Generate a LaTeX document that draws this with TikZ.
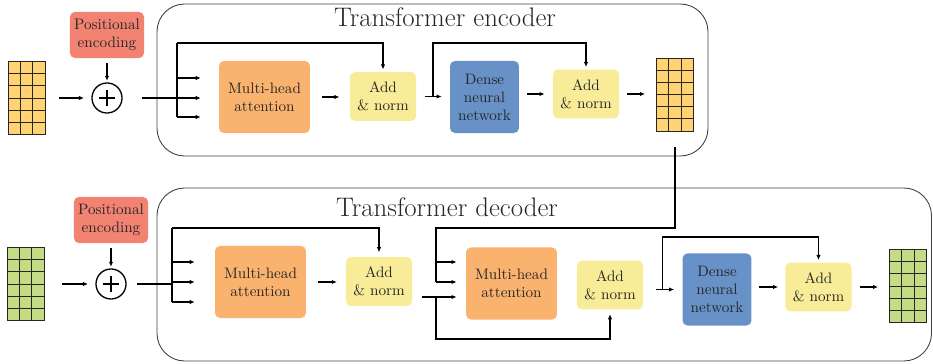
\documentclass[tikz,border=0pt]{standalone}
\usepackage[svgnames]{xcolor}
\usepackage{tikz}
\usetikzlibrary{arrows.meta,calc}

\definecolor{poscol}{HTML}{F28373}
\definecolor{attcol}{HTML}{F9B36F}
\definecolor{normcol}{HTML}{F9EC99}
\definecolor{densecol}{HTML}{6791C7}
\definecolor{enccol}{HTML}{FFD272}
\definecolor{deccol}{HTML}{C4DD84}

\begin{document}
\begin{tikzpicture}[x=0.686pt,y=-0.686pt,
    block/.style={rounded corners=3.4pt,align=center,inner sep=0pt,text=black!85,font=\fontsize{10.4}{12.4}\selectfont},
    attn/.style={block,fill=attcol,minimum width=62.4pt,minimum height=49.4pt},
    addnorm/.style={block,fill=normcol,minimum width=45.3pt,minimum height=33.6pt},
    dense/.style={block,fill=densecol,minimum width=47.3pt,minimum height=49.4pt},
    posenc/.style={block,fill=poscol,minimum width=50.8pt,minimum height=31.6pt},
    plus/.style={draw,circle,line width=0.9pt,minimum size=20.6pt,inner sep=0pt,
      path picture={
        \draw[line width=0.9pt] ([xshift=-5.5pt]path picture bounding box.center) -- ([xshift=5.5pt]path picture bounding box.center);
        \draw[line width=0.9pt] ([yshift=-5.5pt]path picture bounding box.center) -- ([yshift=5.5pt]path picture bounding box.center);
      }},
    tokens/.style={draw=black!85,fill=#1,line width=0.6pt,minimum width=25.4pt,minimum height=50.1pt,inner sep=0pt,
      path picture={
        \foreach \c in {1,2}
          \draw[line width=0.55pt] ($(path picture bounding box.north west)!\c/3!(path picture bounding box.north east)$) -- ($(path picture bounding box.south west)!\c/3!(path picture bounding box.south east)$);
        \foreach \r in {1,...,5}
          \draw[line width=0.55pt] ($(path picture bounding box.north west)!\r/6!(path picture bounding box.south west)$) -- ($(path picture bounding box.north east)!\r/6!(path picture bounding box.south east)$);
      }},
    layer/.style={draw=black!75,line width=0.6pt,rounded corners=19pt},
    heading/.style={text=black!85,font=\fontsize{18.4}{22}\selectfont},
    wire/.style={line width=0.9pt},
    flow/.style={wire,-{Latex[length=3.5pt,width=3pt]}}]
          \useasboundingbox (0,0) rectangle (933,364);

          \draw[layer] (157,4) rectangle (708,156);
          \node[heading] (enctitle) at (445,17.5) {Transformer encoder};
          \node[tokens=enccol] (xenc) at (26.5,98) {};
          \node[posenc] (peenc) at (107,35) {Positional\\encoding};
          \node[plus] (sumenc) at (107,98) {};
          \node[attn] (mhaenc) at (264.5,97) {Multi-head\\attention};
          \node[addnorm] (anenca) at (383,96.5) {Add\\\& norm};
          \node[dense] (dnnenc) at (484.5,97) {Dense\\neural\\network};
          \node[addnorm] (anencb) at (586,94) {Add\\\& norm};
          \node[tokens=enccol] (yenc) at (675,94.5) {};

          \coordinate (encsplit) at (177,98);
          \coordinate (enctop) at (177,43);
          \coordinate (encbot) at (177,117);
          \coordinate (encskip) at ($(anenca.east)!0.5!(dnnenc.west)$);

          \draw[flow,shorten <=9pt,shorten >=5pt] (xenc) -- (sumenc);
          \draw[flow,shorten <=3.5pt,shorten >=1pt] (peenc) -- (sumenc);
          \draw[wire,shorten <=13pt] (sumenc) -- (encsplit);
          \draw[wire] (enctop) -- (encbot);
          \foreach \yy in {78,98,117}
            \draw[flow,shorten >=12.3pt] (encsplit |- 0,\yy) -- (mhaenc.west |- 0,\yy);
          \draw[flow,shorten >=1.5pt] (enctop) -| (anenca.north);
          \draw[flow,shorten <=8pt,shorten >=7pt] (mhaenc.east) -- (mhaenc.east -| anenca.west);
          \draw[flow,shorten <=6pt,shorten >=5.5pt] (anenca.east) -- (anenca.east -| dnnenc.west);
          \draw[flow,shorten >=1.5pt] (encskip) -- (encskip |- enctop) -| (anencb.north);
          \draw[flow,shorten <=5.5pt,shorten >=5.5pt] (dnnenc.east |- anencb.west) -- (anencb.west);
          \draw[flow,shorten <=5.5pt,shorten >=7.5pt] (anencb.east) -- (anencb.east -| yenc.west);

          \draw[layer] (157,188) rectangle (931.5,361);
          \node[heading] (dectitle) at (447,207.5) {Transformer decoder};
          \node[tokens=deccol] (xdec) at (25.5,284) {};
          \node[posenc] (pedec) at (111,220) {Positional\\encoding};
          \node[plus] (sumdec) at (111,284) {};
          \node[attn] (mhadeca) at (260.5,282) {Multi-head\\attention};
          \node[addnorm] (andeca) at (379,281.5) {Add\\\& norm};
          \node[attn] (mhadecb) at (511.5,283.5) {Multi-head\\attention};
          \node[addnorm] (andecb) at (610,285) {Add\\\& norm};
          \node[dense] (dnndec) at (717,289.5) {Dense\\neural\\network};
          \node[addnorm] (andecc) at (818.5,287) {Add\\\& norm};
          \node[tokens=deccol] (ydec) at (908,286) {};

          \coordinate (decsplit) at (172,284);
          \coordinate (dectop) at (172,228);
          \coordinate (decbot) at (172,302);
          \coordinate (crossin) at (436,228);
          \coordinate (crossk) at (436,262);
          \coordinate (crossv) at (436,282);
          \coordinate (decq) at (436,297);
          \coordinate (decres) at (436,339);
          \coordinate (decskip) at ($(andecb.east |- dnndec)!0.5!(dnndec.west)$);
          \coordinate (decskiptop) at (decskip |- 0,237);

          \draw[flow,shorten <=12pt,shorten >=5pt] (xdec) -- (sumdec);
          \draw[flow,shorten <=3.5pt,shorten >=1pt] (pedec) -- (sumdec);
          \draw[wire,shorten <=7pt] (sumdec) -- (decsplit);
          \draw[wire] (dectop) -- (decbot);
          \foreach \yy in {262,282,302}
            \draw[flow,shorten >=13.7pt] (decsplit |- 0,\yy) -- (mhadeca.west |- 0,\yy);
          \draw[flow,shorten >=3pt] (dectop) -| (andeca.north);
          \draw[flow,shorten <=8pt,shorten >=6pt] (mhadeca.east) -- (mhadeca.east -| andeca.west);

          \draw[wire,shorten <=11pt] (yenc.south) |- (crossin) -- (crossv);
          \draw[flow,shorten >=6.2pt] (crossk) -- (crossk -| mhadecb.west);
          \draw[flow,shorten >=6.2pt] (crossv) -- (crossv -| mhadecb.west);
          \draw[flow,shorten <=6.9pt,shorten >=6.2pt] (andeca.east |- decq) -- (decq -| mhadecb.west);
          \draw[flow,shorten >=3pt] (decq) -- (decres) -| (andecb.south);

          \draw[flow,shorten <=8.9pt,shorten >=5.5pt] (andecb.east |- dnndec) -- (dnndec.west);
          \draw[flow,shorten >=1.5pt] (decskip) -- (decskiptop) -| (andecc.north);
          \draw[flow,shorten <=4.8pt,shorten >=4.8pt] (dnndec.east |- andecc.west) -- (andecc.west);
          \draw[flow,line width=1.2pt,shorten <=5.5pt,shorten >=7.5pt] (andecc.east) -- (andecc.east -| ydec.west);
        \end{tikzpicture}
\end{document}
